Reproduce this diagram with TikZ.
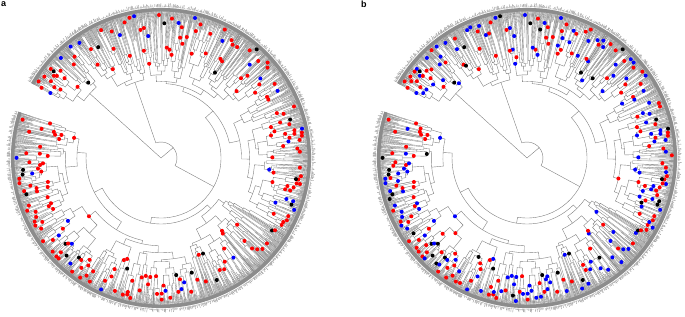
\documentclass[tikz,border=0pt]{standalone}
\usepackage{fontspec}
\setmainfont{Liberation Sans}
\definecolor{branchgray}{gray}{0.5}
\definecolor{tipgray}{gray}{0.55}
\definecolor{bandgray}{gray}{0.55}
\definecolor{dotred}{RGB}{255,0,0}
\definecolor{dotblue}{RGB}{0,0,255}
\tikzset{
  branch/.style={draw=branchgray, line width=0.4pt},
  tipline/.style={draw=tipgray, line width=0.35pt},
  panel label/.style={font=\bfseries\fontsize{9}{9}\selectfont, anchor=north west, inner sep=0pt},
}
% one coloured tip marker
\newcommand\putdot[3]{\fill[#3] (#1:#2pt) circle[radius=2pt];}
% maybe mark a node (always uses two random numbers)
\newcommand\adddot[2]{%
  \pgfmathsetmacro\dP{rnd}%
  \pgfmathsetmacro\dC{rnd}%
  \pgfmathtruncatemacro\dOn{(\dP<\dotprob*(#2/145)^4) ? 1 : 0}%
  \ifnum\dOn=1\relax
    \pgfmathtruncatemacro\dK{(\dC<\pred) ? 1 : ((\dC<\pred+\pblue) ? 2 : 3)}%
    \ifcase\dK\relax\or
      \xdef\dotlist{\unexpanded\expandafter{\dotlist}\noexpand\putdot{#1}{#2}{dotred}}%
    \or
      \xdef\dotlist{\unexpanded\expandafter{\dotlist}\noexpand\putdot{#1}{#2}{dotblue}}%
    \or
      \xdef\dotlist{\unexpanded\expandafter{\dotlist}\noexpand\putdot{#1}{#2}{black}}%
    \fi
  \fi
}
% terminal fan of tips
\newcommand\leaffan[3]{%
  \pgfmathsetmacro\lA{#1+0.2}%
  \pgfmathsetmacro\lB{#2-0.2}%
  \pgfmathsetmacro\lMid{(#1+#2)/2}%
  \pgfmathtruncatemacro\lN{max(1,(#2-#1)/0.32)}%
  \draw[tipline] (\lA:#3pt) arc[start angle=\lA, end angle=\lB, radius=#3pt];
  \foreach \k in {0,...,\lN}{%
    \pgfmathsetmacro\tA{\lA+(\lB-\lA)*\k/\lN}%
    \pgfmathsetmacro\sA{#3+(145-#3)*rnd^0.4}%
    \pgfmathsetmacro\eA{151+4*rnd}%
    \draw[tipline] (\tA:\sA pt) -- (\tA:\eA pt);
  }%
  \draw[tipline] (\lA:#3pt) -- (\lA:150pt) (\lB:#3pt) -- (\lB:150pt);
  \pgfmathsetmacro\lR{#3+(145-#3)*sqrt(rnd)}%
  \adddot{\lMid}{\lR}%
  \xdef\retang{\lMid}%
}
% clade: angle from, angle to, node radius, levels left
\newcommand\clade[4]{%
  \pgfmathsetmacro\cW{#2-#1}%
  \pgfmathtruncatemacro\cLeaf{(#4<1 || \cW<2.6) ? 1 : 0}%
  \ifnum\cLeaf=1\relax
    \leaffan{#1}{#2}{#3}%
  \else
    \pgfmathsetmacro\cCut{#1+\cW*(0.22+0.56*rnd)}%
    \pgfmathsetmacro\cRa{min(#3+2+11*rnd,138)}%
    \pgfmathsetmacro\cRb{min(#3+2+11*rnd,138)}%
    \pgfmathtruncatemacro\cDl{#4-1}%
    \begingroup\edef\x{\noexpand\clade{#1}{\cCut}{\cRa}{\cDl}}\x\endgroup
    \let\cA\retang
    \begingroup\edef\x{\noexpand\clade{\cCut}{#2}{\cRb}{\cDl}}\x\endgroup
    \let\cB\retang
    \draw[branch] (\cA:\cRa pt) -- (\cA:#3pt) arc[start angle=\cA, end angle=\cB, radius=#3pt] -- (\cB:\cRb pt);
    \adddot{\cA}{\cRa}%
    \adddot{\cB}{\cRb}%
    \pgfmathsetmacro\cMid{(\cA+\cB)/2}%
    \xdef\retang{\cMid}%
  \fi
}
% whole tree round the origin
\newcommand\drawtree{%
  \pgfmathsetseed{2718}%
  \gdef\dotlist{}%
  \begingroup\clade{488}{510}{96}{6}\endgroup \let\uA\retang
  \begingroup\clade{460}{488}{80}{6}\endgroup \let\uB\retang
  \begingroup\clade{330}{460}{70}{10}\endgroup \let\mR\retang
  \begingroup\clade{162}{330}{66}{10}\endgroup \let\mL\retang
  \pgfmathsetmacro\mM{(\mL+\mR)/2}%
  \draw[branch] (\mL:66pt) -- (\mL:60pt) arc[start angle=\mL, end angle=\mR, radius=60pt] -- (\mR:70pt);
  \draw[branch] (\mM:60pt) -- (\mM:16pt) arc[start angle=\mM, end angle=\uB, radius=16pt] -- (\uB:80pt);
  \pgfmathsetmacro\bM{(\mM+\uB)/2}%
  \draw[branch] (0,0) -- (\bM:16pt);
  \draw[branch] (0,0) -- (\uA:96pt);
  \adddot{\uA}{62}%
  \adddot{\mL}{66}%
  % outer band of tips
  \fill[bandgray] (162:146.5pt) arc[start angle=162, end angle=510, radius=146.5pt]
    -- (510:150pt) arc[start angle=510, end angle=162, radius=150pt] -- cycle;
  \draw[white, line width=0.6pt] (162:150.6pt) arc[start angle=162, end angle=510, radius=150.6pt];
  \dotlist
}

\begin{document}
\begin{tikzpicture}
  \useasboundingbox (0,0) rectangle (685pt,316pt);

  \node[panel label] (labA) at (1pt,315pt) {a};
  \node[panel label] (labB) at (361pt,315pt) {b};

  % panel a
  \begin{scope}[shift={(161pt,158pt)}]
    \def\dotprob{0.75}\def\pred{0.8}\def\pblue{0.12}
    \drawtree
  \end{scope}

  % panel b
  \begin{scope}[shift={(527pt,158pt)}]
    \def\dotprob{1}\def\pred{0.45}\def\pblue{0.43}
    \drawtree
  \end{scope}
\end{tikzpicture}
\end{document}
